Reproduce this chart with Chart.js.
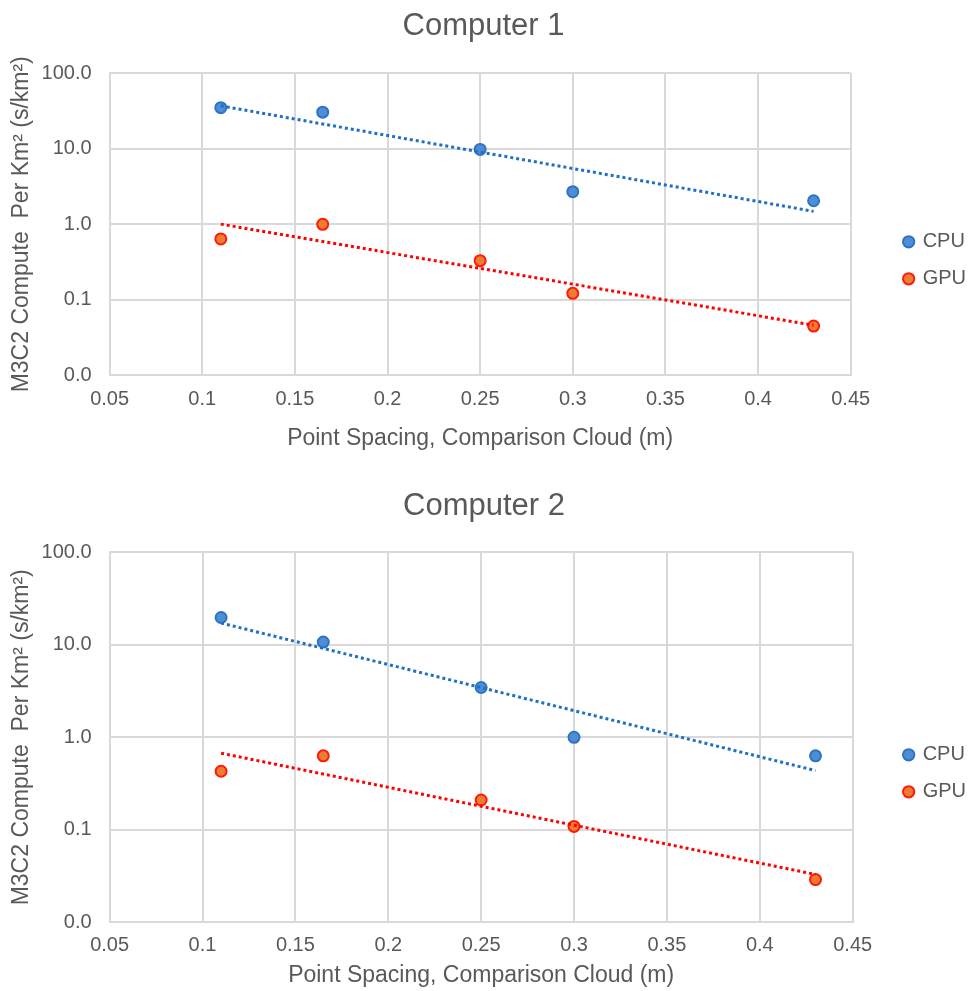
<!DOCTYPE html>
<html>
<head>
<meta charset="utf-8">
<title>M3C2 compute per km²</title>
<script src="https://cdn.jsdelivr.net/npm/chart.js@4.4.1/dist/chart.umd.min.js"></script>
<style>
  body { margin: 0; background: #fff; }
  canvas { display: block; }
</style>
</head>
<body>
<canvas id="c1" width="969" height="470"></canvas>
<canvas id="c2" width="969" height="521"></canvas>
<script>
// point spacing of the comparison cloud (m)
const spacing = [0.11, 0.165, 0.25, 0.3, 0.43];

// seconds per km²
const cpu1 = [35, 30.5, 9.8, 2.7, 2.05];
const gpu1 = [0.64, 1.0, 0.33, 0.122, 0.045];
const cpu2 = [19.7, 10.7, 3.45, 1.0, 0.63];
const gpu2 = [0.43, 0.63, 0.21, 0.109, 0.029];

const yTicks = [0.01, 0.1, 1, 10, 100];
const xMin = 0.05, xMax = 0.45, xStep = 0.05;

const grey = '#595959';
const gridGrey = '#d9d9d9';
Chart.defaults.font.family = "'Liberation Sans', Arial, sans-serif";
Chart.defaults.color = grey;

// Excel-like exponential trendline: least squares fit of ln(y) on x
function expTrend(xs, ys) {
  const n = xs.length;
  const ly = ys.map(Math.log);
  const mx = xs.reduce((a, b) => a + b) / n;
  const my = ly.reduce((a, b) => a + b) / n;
  let sxy = 0, sxx = 0;
  xs.forEach((x, i) => {
    sxy += (x - mx) * (ly[i] - my);
    sxx += (x - mx) * (x - mx);
  });
  const b = sxy / sxx;
  const a = my - b * mx;
  return [Math.min(...xs), Math.max(...xs)].map(x => ({ x: x, y: Math.exp(a + b * x) }));
}

const toPoints = (ys) => spacing.map((x, i) => ({ x: x, y: ys[i] }));

function makeChart(id, title, cpu, gpu, lay) {
  const ctx = document.getElementById(id).getContext('2d');
  return new Chart(ctx, {
    type: 'scatter',
    data: {
      datasets: [
        {
          label: 'CPU',
          data: toPoints(cpu),
          backgroundColor: '#4d8fd6',
          borderColor: '#2f73c2',
          borderWidth: 2,
          pointRadius: 5.5,
          order: 2
        },
        {
          label: 'GPU',
          data: toPoints(gpu),
          backgroundColor: '#ed7d31',
          borderColor: '#ff1a0a',
          borderWidth: 2,
          pointRadius: 5.5,
          order: 2
        },
        {
          label: 'CPU trend',
          data: expTrend(spacing, cpu),
          showLine: true,
          borderColor: '#1f6fc8',
          borderWidth: 3,
          borderDash: [3, 3],
          pointRadius: 0,
          order: 1
        },
        {
          label: 'GPU trend',
          data: expTrend(spacing, gpu),
          showLine: true,
          borderColor: '#ff0000',
          borderWidth: 3,
          borderDash: [3, 3],
          pointRadius: 0,
          order: 1
        }
      ]
    },
    options: {
      responsive: false,
      animation: false,
      events: [],
      layout: { padding: { left: lay.left, right: -7, top: 0, bottom: 0 } },
      plugins: {
        title: {
          display: true,
          text: title,
          color: grey,
          font: { size: 31, weight: 'normal' },
          padding: lay.titlePad
        },
        legend: {
          position: 'right',
          fullSize: false,
          title: {
            // empty title, only used to push the two entries down
            display: true,
            text: ' ',
            font: { size: 10 },
            padding: { top: 0, bottom: 60 }
          },
          labels: {
            usePointStyle: true,
            boxWidth: 8,
            boxHeight: 8,
            padding: 17,
            font: { size: 20 },
            color: grey,
            filter: (item) => item.datasetIndex < 2
          }
        },
        tooltip: { enabled: false }
      },
      scales: {
        x: {
          type: 'linear',
          min: xMin,
          max: xMax,
          grid: { color: gridGrey, lineWidth: 2, drawTicks: false },
          border: { color: gridGrey, width: 2 },
          ticks: {
            stepSize: xStep,
            padding: lay.xTickPad,
            font: { size: 20 },
            color: grey,
            callback: (v) => String(Number(v.toFixed(2)))
          },
          title: {
            display: true,
            text: 'Point Spacing, Comparison Cloud (m)',
            font: { size: 23 },
            color: grey,
            padding: lay.xTitlePad
          }
        },
        y: {
          type: 'logarithmic',
          min: yTicks[0],
          max: yTicks[yTicks.length - 1],
          afterBuildTicks: (scale) => {
            scale.ticks = yTicks.map(v => ({ value: v }));
          },
          grid: { color: gridGrey, lineWidth: 2, drawTicks: false },
          border: { color: gridGrey, width: 2 },
          ticks: {
            padding: 18,
            font: { size: 20 },
            color: grey,
            callback: (v) => Number(v).toFixed(1)
          },
          title: {
            display: true,
            text: 'M3C2 Compute  Per Km\u00b2 (s/km\u00b2)',
            font: { size: 23 },
            color: grey,
            padding: lay.yTitlePad
          }
        },
        // blank axis that keeps the legend away from the plot
        gap: {
          type: 'linear',
          position: 'right',
          display: true,
          grid: { display: false },
          border: { display: false },
          ticks: { display: false },
          afterFit: (scale) => { scale.width = lay.gap; }
        }
      }
    }
  });
}

makeChart('c1', 'Computer 1', cpu1, gpu1, {
  left: -9,
  gap: 37,
  titlePad: { top: 8, bottom: 28 },
  yTitlePad: { top: 17, bottom: -12 },
  xTickPad: 12,
  xTitlePad: { top: 1, bottom: 18 }
});

makeChart('c2', 'Computer 2', cpu2, gpu2, {
  left: -8,
  gap: 35,
  titlePad: { top: 18, bottom: 27 },
  yTitlePad: { top: 16, bottom: -12 },
  xTickPad: 11,
  xTitlePad: { top: -7, bottom: 2 }
});
</script>
</body>
</html>
